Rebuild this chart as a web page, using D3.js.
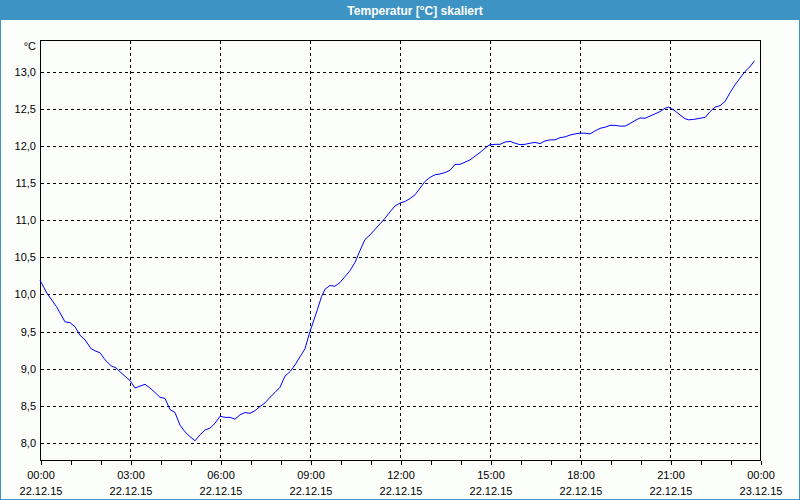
<!DOCTYPE html>
<html>
<head>
<meta charset="utf-8">
<script src="https://cdn.jsdelivr.net/npm/d3@7"></script>
<style>
  html, body { margin: 0; padding: 0; background: #fcfefc; }
  svg { display: block; }
</style>
</head>
<body>
<script>
// ---- data ----
const title = "Temperatur [°C] skaliert";
const unitLabel = "°C";
// minutes after 22.12.15 00:00
const minutes = [0,14,33,50,60,70,80,90,102,110,120,130,142,152,163,180,190,210,220,230,240,250,260,270,280,290,300,310,320,330,340,350,360,370,380,390,400,410,420,430,440,450,460,470,480,490,500,510,520,530,539,555,563,570,580,590,600,610,620,630,640,650,660,670,680,690,700,710,720,730,740,750,760,770,780,790,800,810,820,830,840,850,860,870,880,887,898,910,920,930,940,950,960,970,980,990,1000,1010,1020,1030,1040,1050,1060,1070,1080,1090,1100,1110,1120,1130,1140,1150,1160,1170,1180,1190,1200,1210,1220,1230,1240,1250,1257,1263,1270,1280,1290,1297,1307,1320,1331,1340,1350,1360,1370,1380,1390,1400,1410,1420,1429];
const temps = [10.19,10.015,9.835,9.63,9.62,9.565,9.45,9.39,9.27,9.24,9.215,9.12,9.04,9.01,8.94,8.84,8.74,8.79,8.74,8.68,8.615,8.6,8.45,8.41,8.24,8.15,8.085,8.03,8.11,8.175,8.2,8.265,8.36,8.345,8.345,8.32,8.38,8.41,8.4,8.435,8.49,8.54,8.615,8.68,8.75,8.9,8.96,9.05,9.16,9.27,9.48,9.8,9.97,10.07,10.12,10.11,10.16,10.24,10.32,10.43,10.59,10.74,10.8,10.875,10.95,11.025,11.11,11.19,11.23,11.25,11.29,11.34,11.43,11.52,11.575,11.61,11.62,11.64,11.67,11.75,11.75,11.78,11.81,11.86,11.91,11.95,12.01,12.02,12.02,12.05,12.06,12.035,12.015,12.02,12.035,12.045,12.03,12.065,12.08,12.08,12.11,12.12,12.145,12.16,12.17,12.17,12.16,12.2,12.235,12.25,12.275,12.275,12.265,12.265,12.3,12.34,12.375,12.37,12.4,12.43,12.46,12.505,12.52,12.5,12.47,12.415,12.365,12.35,12.355,12.37,12.385,12.46,12.52,12.54,12.595,12.715,12.82,12.91,13.0,13.065,13.145];
const yTicks = [8.0, 8.5, 9.0, 9.5, 10.0, 10.5, 11.0, 11.5, 12.0, 12.5, 13.0];
const xMinorTicks = d3.range(0, 1441, 60);
const xMajorTicks = [0, 180, 360, 540, 720, 900, 1080, 1260, 1440];
const xTimeLabels = ["00:00","03:00","06:00","09:00","12:00","15:00","18:00","21:00","00:00"];
const xDateLabels = ["22.12.15","22.12.15","22.12.15","22.12.15","22.12.15","22.12.15","22.12.15","22.12.15","23.12.15"];

// ---- layout ----
const W = 800, H = 500;
const frame = "#3c93c4";
const L = 40, R = 760, T = 40, B = 460;
const font = "'Liberation Sans', Arial, sans-serif";

const svg = d3.select("body").append("svg").attr("width", W).attr("height", H);

svg.append("rect").attr("x", 0).attr("y", 0).attr("width", W).attr("height", H).attr("fill", "#fcfefc");
// window frame
svg.append("rect").attr("x", 0.5).attr("y", 0.5).attr("width", W - 1).attr("height", H - 1)
  .attr("fill", "none").attr("stroke", frame).attr("stroke-width", 1);
svg.append("rect").attr("x", 0).attr("y", 0).attr("width", W).attr("height", 20).attr("fill", frame);
svg.append("text").attr("x", 415).attr("y", 14.5).attr("text-anchor", "middle")
  .attr("fill", "#ffffff").attr("font-family", font).attr("font-size", 12).attr("font-weight", "bold")
  .text(title);

const x = d3.scaleLinear().domain([0, 1440]).range([L, R]);
const y = d3.scaleLinear().domain([7.771, 13.424]).range([B, T]);

const data = minutes.map((m, i) => ({ m, v: temps[i] }));

// gridlines
const grid = svg.append("g").attr("stroke", "#000").attr("stroke-width", 1)
  .attr("stroke-dasharray", "3,3").attr("shape-rendering", "crispEdges");
grid.selectAll("line.h").data(yTicks).join("line").attr("class", "h")
  .attr("x1", L + 1).attr("x2", R).attr("y1", d => Math.round(y(d)) + 0.5).attr("y2", d => Math.round(y(d)) + 0.5);
grid.selectAll("line.v").data(xMajorTicks.slice(1, -1)).join("line").attr("class", "v")
  .attr("y1", T + 1).attr("y2", B).attr("x1", d => Math.round(x(d)) + 0.5).attr("x2", d => Math.round(x(d)) + 0.5);

// plot box
svg.append("rect").attr("x", L + 0.5).attr("y", T + 0.5).attr("width", R - L).attr("height", B - T)
  .attr("fill", "none").attr("stroke", "#000").attr("stroke-width", 1).attr("shape-rendering", "crispEdges");

// x axis minor ticks
const xAxis = d3.axisBottom(x).tickValues(xMinorTicks).tickSize(4).tickFormat("");
const gx = svg.append("g").attr("transform", `translate(0.5,${B + 0.5})`).call(xAxis);
gx.select(".domain").remove();
gx.selectAll("line").attr("stroke", "#000").attr("shape-rendering", "crispEdges");

// x labels
const xl = svg.append("g").attr("font-family", font).attr("font-size", 11).attr("fill", "#000").attr("text-anchor", "middle");
xl.selectAll("text.t").data(xMajorTicks).join("text").attr("class", "t")
  .attr("x", d => x(d) + 1).attr("y", 479).text((d, i) => xTimeLabels[i]);
xl.selectAll("text.d").data(xMajorTicks).join("text").attr("class", "d")
  .attr("x", d => x(d) + 1).attr("y", 495).text((d, i) => xDateLabels[i]);

// y axis labels
const fmt = d => d.toFixed(1).replace(".", ",");
const yAxis = d3.axisLeft(y).tickValues(yTicks).tickSize(0).tickPadding(4).tickFormat(fmt);
const gy = svg.append("g").attr("transform", `translate(${L},0)`).call(yAxis);
gy.select(".domain").remove();
gy.selectAll("text").attr("font-family", font).attr("font-size", 11).attr("fill", "#000");

svg.append("text").attr("x", 36).attr("y", 50).attr("text-anchor", "end")
  .attr("font-family", font).attr("font-size", 11).attr("fill", "#000").text(unitLabel);

// line
const line = d3.line().x(d => x(d.m)).y(d => y(d.v));
svg.append("path").datum(data).attr("d", line).attr("fill", "none")
  .attr("stroke", "#0000ff").attr("stroke-width", 1);
</script>
</body>
</html>
